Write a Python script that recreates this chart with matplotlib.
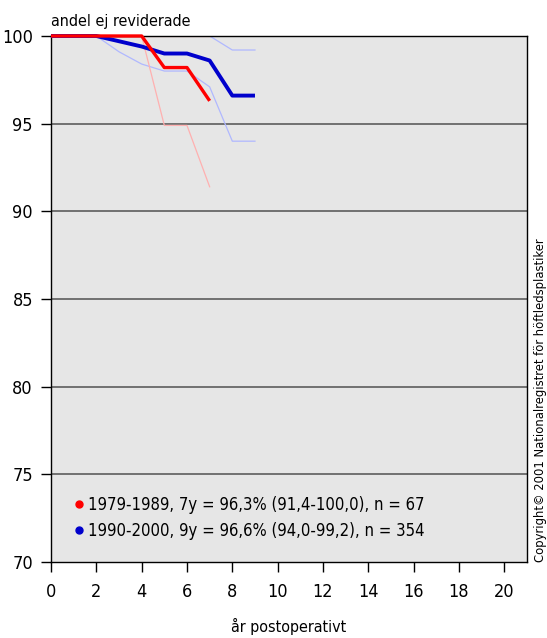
#!/usr/bin/env python3

##
# plot.py
#
# Survival curve (andel ej reviderade) for two periods, with confidence bands.
##
import matplotlib
matplotlib.use('Agg')
import matplotlib.pyplot as plt
from matplotlib.lines import Line2D

# Years after operation
YEARS_A = [0, 1, 2, 3, 4, 5, 6, 7]
YEARS_B = [0, 1, 2, 3, 4, 5, 6, 7, 8, 9]

# 1979-1989
SURV_A = [100, 100, 100, 100, 100, 98.2, 98.2, 96.3]
LOWER_A = [100, 100, 100, 100, 100, 94.9, 94.9, 91.4]
UPPER_A = [100, 100, 100, 100, 100, 100, 100, 100]

# 1990-2000
SURV_B = [100, 100, 100, 99.7, 99.4, 99.0, 99.0, 98.6, 96.6, 96.6]
LOWER_B = [100, 100, 100, 99.1, 98.4, 98.0, 98.0, 97.1, 94.0, 94.0]
UPPER_B = [100, 100, 100, 100, 100, 100, 100, 100, 99.2, 99.2]

LABELS = ['1979-1989, 7y = 96,3% (91,4-100,0), n = 67',
          '1990-2000, 9y = 96,6% (94,0-99,2), n = 354']
COLORS = ['#ff0000', '#0000cc']
LIGHT = ['#ffb0b0', '#b0b8ff']

YTICKS = [70, 75, 80, 85, 90, 95, 100]
XTICKS = list(range(0, 21, 2))


def figure(filename):
    plt.rcParams['font.family'] = ['DejaVu Sans']
    plt.rcParams['font.stretch'] = 'condensed'
    plt.rcParams['font.size'] = 12

    fig = plt.figure(figsize=(5.47, 6.38), dpi=100)
    ax = fig.add_axes([0.0932, 0.1191, 0.8702, 0.8245])
    ax.set_facecolor('#e6e6e6')

    # Horizontal grid lines
    for y in YTICKS[1:-1]:
        ax.axhline(y, color='#707070', lw=1.4, zorder=1)

    # Confidence bands
    ax.plot(YEARS_B, LOWER_B, color=LIGHT[1], lw=0.9, zorder=2)
    ax.plot(YEARS_B, UPPER_B, color=LIGHT[1], lw=0.9, zorder=2)
    ax.plot(YEARS_A, LOWER_A, color=LIGHT[0], lw=0.9, zorder=2)
    ax.plot(YEARS_A, UPPER_A, color=LIGHT[0], lw=0.9, zorder=2)

    # Survival curves
    ax.plot(YEARS_B, SURV_B, color=COLORS[1], lw=2.8, zorder=3,
            solid_capstyle='butt', clip_on=False)
    ax.plot(YEARS_A, SURV_A, color=COLORS[0], lw=2.4, zorder=4,
            solid_capstyle='butt', clip_on=False)

    ax.set_xlim(0, 21)
    ax.set_ylim(70, 100)
    ax.set_xticks(XTICKS)
    ax.set_yticks(YTICKS)
    ax.tick_params(axis='y', length=7, width=1, pad=6, labelsize=13)
    ax.tick_params(axis='x', length=7, width=1, pad=8, labelsize=13)
    for spine in ax.spines.values():
        spine.set_linewidth(1)

    ax.set_xlabel('år postoperativt', fontsize=11.5, labelpad=12)
    fig.text(0.0932, 0.96, 'andel ej reviderade', fontsize=11.5,
             ha='left', va='baseline')

    # Legend
    handles = [Line2D([], [], marker='o', markersize=5, linestyle='none',
                      color=c) for c in COLORS]
    ax.legend(handles, LABELS, loc='lower left', bbox_to_anchor=(0.035, 0.03),
              frameon=False, handlelength=0.6, handletextpad=0.25,
              labelspacing=0.45, fontsize=12, borderaxespad=0)

    fig.text(0.988, 0.1191, 'Copyright\u00a9 2001 Nationalregistret för höftledsplastiker',
             rotation=90, fontsize=9.3, ha='center', va='bottom')

    plt.savefig(filename, dpi=100)
    plt.close()


if __name__ == '__main__':
    figure('out.png')
